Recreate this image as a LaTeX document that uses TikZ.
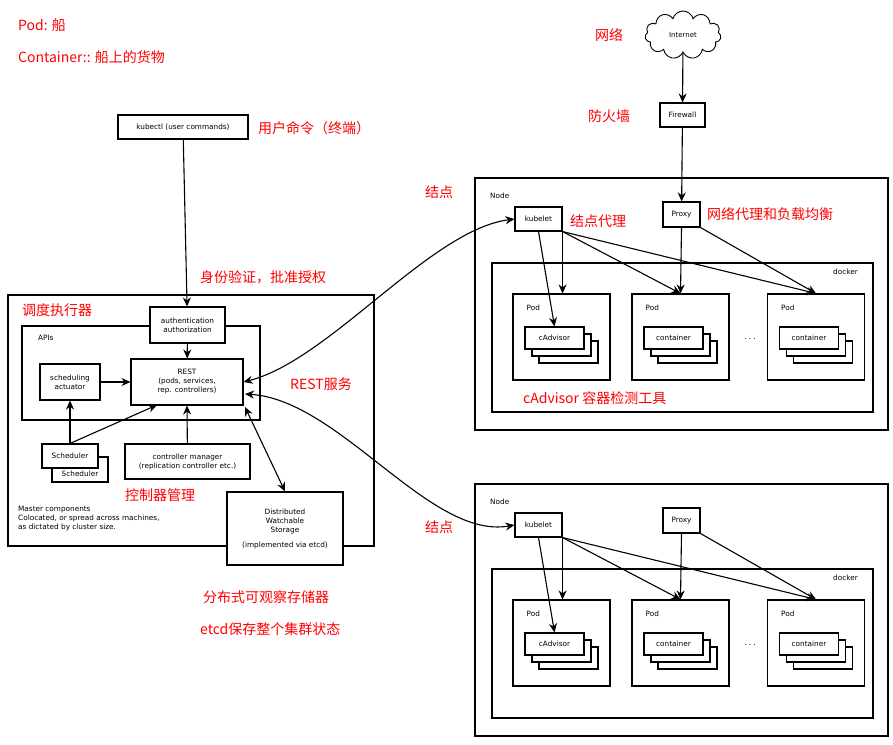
\documentclass[tikz,border=0pt]{standalone}
\usepackage{fontspec}
\setmainfont{DejaVu Sans}
\newfontfamily\cjk{Noto Sans CJK SC}
\usetikzlibrary{arrows.meta,shapes.symbols}
\tikzstyle{box}=[draw,line width=1.1pt,inner sep=0pt,font=\fontsize{7.3}{9}\selectfont,align=center]
\tikzstyle{lbl}=[inner sep=0pt,anchor=west,font=\fontsize{7.3}{9}\selectfont,align=left]
\tikzstyle{red}=[inner sep=0pt,anchor=west,text=red,font=\cjk\fontsize{14}{16}\selectfont]
\tikzstyle{arr}=[line width=1.1pt,-{Stealth[length=9pt,width=8pt]}]
\tikzstyle{darr}=[line width=1.1pt,{Stealth[length=9pt,width=8pt]}-{Stealth[length=9pt,width=8pt]}]

\begin{document}
\begin{tikzpicture}[x=1pt,y=-1pt]
  \useasboundingbox (0,0) rectangle (893,744);

  % notes
  \node[red] (pod) at (18,25) {Pod: 船};
  \node[red] (cont) at (18,57) {Container:: 船上的货物};

  % master
  \node[box,minimum width=130pt,minimum height=24pt] (kubectl) at (183,127) {kubectl (user commands)};
  \node[red] (tkubectl) at (258,128) {用户命令（终端）};
  \node[box,minimum width=366pt,minimum height=251pt] (master) at (191,420.5) {};
  \node[red] (tmaster) at (22,310) {调度执行器};
  \node[box,minimum width=238pt,minimum height=94pt] (apis) at (141,373) {};
  \node[lbl] (tapis) at (38,338) {APIs};
  \node[box,fill=white,minimum width=75pt,minimum height=36pt] (auth) at (187.5,325) {authentication\\authorization};
  \node[red] (tauth) at (200,277) {身份验证，批准授权};
  \node[box,minimum width=112pt,minimum height=46pt] (rest) at (187,382) {REST\\(pods, services,\\rep. controllers)};
  \node[box,minimum width=60pt,minimum height=36pt] (act) at (70,382) {scheduling\\actuator};
  \node[box,minimum width=56pt,minimum height=25pt] (sched2) at (80,469.5) {\\[6pt]Scheduler};
  \node[box,fill=white,minimum width=56pt,minimum height=24pt] (sched) at (70,456) {Scheduler};
  \node[box,minimum width=125pt,minimum height=35pt] (ctrl) at (187.5,461.5) {controller manager\\(replication controller etc.)};
  \node[red] (tctrl) at (125,495) {控制器管理};
  \node[lbl] (tmc) at (18,519) {Master components\\Colocated, or spread across machines,\\as dictated by cluster size.};
  \node[box,fill=white,minimum width=116pt,minimum height=73pt] (store) at (285,528.5) {Distributed\\Watchable\\Storage\\[6pt](implemented via etcd)};
  \node[red] (tstore) at (203,597) {分布式可观察存储器};
  \node[red] (tetcd) at (200,629) {etcd保存整个集群状态};
  \node[red] (trest) at (290,384) {REST服务};

  \draw[arr] (kubectl) -- (auth);
  \draw[arr] (auth) -- (rest);
  \draw[arr] (act) -- (rest);
  \draw[arr] (sched.north) -- (act);
  \draw[arr] (sched.north) -- (157,405);
  \draw[arr] (ctrl) -- (rest.south);
  \draw[darr] (245,407) -- (store.north);

  % internet
  \node[draw,cloud,cloud puffs=11,aspect=1.6,line width=0.9pt,minimum width=76pt,minimum height=48pt,font=\fontsize{7}{8}\selectfont] (inet) at (683,35) {Internet};
  \node[red] (tinet) at (595,35) {网络};
  \node[box,minimum width=45pt,minimum height=24pt] (fw) at (682.5,115) {Firewall};
  \node[red] (tfw) at (588,116) {防火墙};
  \draw[arr] (inet) -- (fw);

  % nodes
  \foreach \i/\dy in {1/0,2/306}{
    \begin{scope}[yshift=-\dy pt]
      \node[box,minimum width=413pt,minimum height=252pt] (node\i) at (681.5,304) {};
      \node[lbl] (tnode\i) at (490,196) {Node};
      \node[box,fill=white,minimum width=47pt,minimum height=24pt] (kub\i) at (538.5,219) {kubelet};
      \node[box,fill=white,minimum width=37pt,minimum height=25pt] (proxy\i) at (681.5,214.5) {Proxy};
      \node[box,minimum width=381pt,minimum height=149pt] (docker\i) at (682.5,337.5) {};
      \node[lbl] (tdocker\i) at (833,272) {docker};
      \foreach \p/\x/\t in {a/561.5/cAdvisor,b/680.5/container,c/816/container}{
        \node[box,minimum width=97pt,minimum height=86pt] (pod\i\p) at (\x,337) {};
        \node[lbl] at (\x-35,308) {Pod};
        \node[box,fill=white,minimum width=59pt,minimum height=22pt] at (\x+7,352) {};
        \node[box,fill=white,minimum width=59pt,minimum height=22pt] at (\x,345) {};
        \node[box,fill=white,minimum width=59pt,minimum height=22pt] (c\i\p) at (\x-7,338) {\t};
      }
      \node[inner sep=0pt] (dots\i) at (750,339) {$\cdots$};
      \draw[arr] (kub\i.south) -- (c\i a.north);
      \draw[arr] (kub\i.south east) -- (pod\i a.north -| kub\i.south east);
      \draw[arr] (kub\i.south east) -- (pod\i b.north);
      \draw[arr] (kub\i.south east) -- (pod\i c.north);
      \draw[arr] (proxy\i.south) -- (pod\i b.north);
      \draw[arr] (proxy\i.south east) -- (pod\i c.north);
    \end{scope}
  }
  \node[red] (tnode1) at (425,192) {结点};
  \node[red] (tnode2) at (425,527) {结点};
  \node[red] (tkub) at (570,221) {结点代理};
  \node[red] (tproxy) at (707,214) {网络代理和负载均衡};
  \node[red] (tcadv) at (523,398) {cAdvisor 容器检测工具};
  \draw[arr] (fw) -- (proxy1);

  \draw[darr] (rest.east) .. controls (330,360) and (430,230) .. (kub1.west);
  \draw[darr] (245,394) .. controls (340,400) and (430,540) .. (kub2.west);
\end{tikzpicture}
\end{document}
